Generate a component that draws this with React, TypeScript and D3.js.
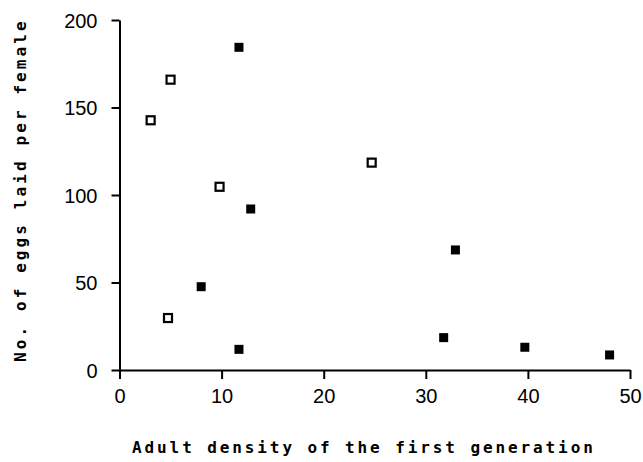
import React, { useEffect, useRef } from 'react';
import * as d3 from 'd3';

// open squares
const openX = [3.05, 5.0, 9.8, 24.7, 4.75];
const openY = [142.7, 165.9, 104.7, 118.5, 29.7];
// filled squares
const filledX = [11.7, 12.85, 8.0, 11.7, 32.9, 31.75, 39.7, 48.0];
const filledY = [184.4, 92, 47.6, 11.8, 68.6, 18.5, 13, 8.6];

const xTicks = [0, 10, 20, 30, 40, 50];
const yTicks = [0, 50, 100, 150, 200];

const xTitle = 'Adult density of the first generation';
const yTitle = 'No. of eggs laid per female';

const App: React.FC = () => {
	const svgRef = useRef<SVGSVGElement>(null);

	useEffect(() => {
		if (!svgRef.current) return;
		const width = 643;
		const height = 462;

		const xScale = d3.scaleLinear().domain([0, 50]).range([119.5, 630]);
		const yScale = d3.scaleLinear().domain([0, 200]).range([370, 20]);

		const svg = d3.select(svgRef.current)
			.attr('width', width)
			.attr('height', height);
		svg.selectAll('*').remove();

		const tickFont = '"Liberation Sans", Arial, sans-serif';
		const titleFont = '"DejaVu Sans Mono", "Liberation Mono", monospace';

		const xAxis = svg.append('g')
			.attr('transform', `translate(0,${yScale(0)})`)
			.call(d3.axisBottom(xScale).tickValues(xTicks).tickSize(9).tickSizeOuter(0).tickPadding(10));
		const yAxis = svg.append('g')
			.attr('transform', `translate(${xScale(0)},0)`)
			.call(d3.axisLeft(yScale).tickValues(yTicks).tickSize(8).tickSizeOuter(0).tickPadding(14));

		[xAxis, yAxis].forEach(ax => {
			ax.select('.domain').attr('stroke', '#000').attr('stroke-width', 2);
			ax.selectAll('.tick line').attr('stroke', '#000').attr('stroke-width', 2);
			ax.selectAll('.tick text')
				.attr('fill', '#000')
				.style('font-family', tickFont)
				.style('font-size', '20px');
		});
		yAxis.selectAll('.tick text').attr('dy', '0.36em');

		const size = 9;
		svg.append('g')
			.selectAll('rect')
			.data(filledX.map((x, i) => [x, filledY[i]]))
			.join('rect')
			.attr('x', d => xScale(d[0]) - size / 2)
			.attr('y', d => yScale(d[1]) - size / 2)
			.attr('width', size)
			.attr('height', size)
			.attr('fill', '#000');

		svg.append('g')
			.selectAll('rect')
			.data(openX.map((x, i) => [x, openY[i]]))
			.join('rect')
			.attr('x', d => xScale(d[0]) - 4)
			.attr('y', d => yScale(d[1]) - 4)
			.attr('width', 8)
			.attr('height', 8)
			.attr('fill', '#fff')
			.attr('stroke', '#000')
			.attr('stroke-width', 2.2);

		svg.append('text')
			.attr('x', 132)
			.attr('y', 453)
			.style('font-family', titleFont)
			.style('font-weight', 'bold')
			.style('font-size', '16px')
			.style('letter-spacing', '2.9px')
			.text(xTitle);

		svg.append('text')
			.attr('transform', 'translate(26,362) rotate(-90)')
			.style('font-family', titleFont)
			.style('font-weight', 'bold')
			.style('font-size', '16px')
			.style('letter-spacing', '3.1px')
			.text(yTitle);
	}, []);

	return <svg ref={svgRef} style={{ position: 'absolute', left: 0, top: 0 }}></svg>;
};

export default App;
